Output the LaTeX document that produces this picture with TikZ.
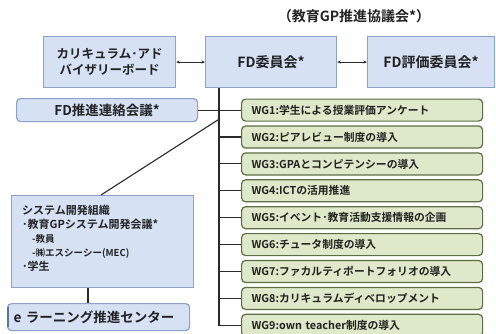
\documentclass[tikz,border=0pt]{standalone}
\usepackage{fontspec}
\setmainfont{Noto Sans CJK JP}[BoldFont={Noto Sans CJK JP Bold}]
\usetikzlibrary{arrows.meta,calc}
\definecolor{bfill}{HTML}{D6E2F4}
\definecolor{bdraw}{HTML}{8AA2CC}
\definecolor{gfill}{HTML}{DDE9C8}
\definecolor{gdraw}{HTML}{5C6E44}
\definecolor{lnc}{HTML}{2A2A2A}
\definecolor{txc}{HTML}{222222}
\begin{document}
\begin{tikzpicture}[x=1pt,y=-1pt,
  bbox/.style={draw=bdraw,fill=bfill,line width=1.2pt,rectangle,anchor=north west,inner sep=0pt,align=center,text=txc,font=\bfseries\fontsize{12.5}{15.5}\selectfont},
  rbox/.style={bbox,rounded corners=4pt},
  wgbox/.style={draw=gdraw,fill=gfill,line width=1.2pt,rectangle,rounded corners=4pt,anchor=north west,minimum width=241pt,minimum height=22pt,text width=221pt,inner xsep=10pt,inner ysep=0pt,align=left,text=txc,font=\bfseries\fontsize{10.8}{12}\selectfont},
  conn/.style={draw=lnc,line width=1.1pt},
  dbl/.style={draw=lnc,line width=0.9pt,{Stealth[length=3.5pt,width=3pt]}-{Stealth[length=3.5pt,width=3pt]}}
]
\useasboundingbox (0,0) rectangle (496,333);
% title
\node[text=txc,font=\bfseries\fontsize{14}{16}\selectfont] (title) at (354,16) {（教育GP推進協議会*）};
% top boxes
\node[bbox,minimum width=132pt,minimum height=51pt] (adv) at (43,36) {カリキュラム･アド\\バイザリーボード};
\node[bbox,minimum width=131pt,minimum height=51pt,font=\bfseries\fontsize{14}{16}\selectfont] (fd) at (205,36) {FD委員会*};
\node[bbox,minimum width=127pt,minimum height=51pt,font=\bfseries\fontsize{14}{16}\selectfont] (fde) at (367,36) {FD評価委員会*};
\draw[dbl] (adv.east) -- (fd.west);
\draw[dbl] (fd.east) -- (fde.west);
% FD promotion liaison
\node[rbox,minimum width=181pt,minimum height=23pt,font=\bfseries\fontsize{13.5}{15}\selectfont] (fdp) at (16,98) {FD推進連絡会議*};
% WG boxes
\node[wgbox] (wg1) at (241,98.5) {WG1:学生による授業評価アンケート};
\node[wgbox] (wg2) at (241,125.4) {WG2:ピアレビュー制度の導入};
\node[wgbox] (wg3) at (241,152.3) {WG3:GPAとコンピテンシーの導入};
\node[wgbox] (wg4) at (241,179.2) {WG4:ICTの活用推進};
\node[wgbox] (wg5) at (241,206.1) {WG5:イベント･教育活動支援情報の企画};
\node[wgbox] (wg6) at (241,233.0) {WG6:チュータ制度の導入};
\node[wgbox] (wg7) at (241,259.9) {WG7:ファカルティポートフォリオの導入};
\node[wgbox] (wg8) at (241,286.8) {WG8:カリキュラムディベロップメント};
\node[wgbox] (wg9) at (241,313.7) {WG9:own teacher制度の導入};
% trunk
\coordinate (t0) at ($(fd.south west)+(14,0)$);
\draw[conn] (t0) |- (wg9.west);
\foreach \i in {2,...,8} {\draw[conn] (wg\i.west) -- (wg\i.west -| t0);}
\draw[conn] (fdp.east) -- (wg1.west);
% system development organisation
\node[bbox,minimum width=182pt,minimum height=92pt] (sys) at (11,195) {};
\node[anchor=north west,inner sep=0pt,align=left,text=txc,font=\bfseries\fontsize{11}{14}\selectfont] (systxt) at (22,204.5)
  {システム開発組織\\･教育GPシステム開発会議*\\
   \hspace*{10pt}{\fontsize{9.5}{14}\selectfont -教員}\\
   \hspace*{10pt}{\fontsize{9.5}{14}\selectfont -㈱エスシーシー(MEC)}\\
   ･学生};
\coordinate (dj) at ($(t0)+(0,31)$);
\draw[conn] (dj) -- ($(sys.north west)+(90,0)$);
% e-learning centre
\node[rbox,minimum width=181pt,minimum height=27pt,text width=170pt,align=left,inner xsep=6pt,font=\bfseries\fontsize{13.5}{15}\selectfont] (el) at (7,303) {e ラーニング推進センター};
\draw[bdraw!70!black,line width=2.5pt] ($(el.north west)+(0.8,4)$) -- ($(el.south west)+(0.8,-4)$);
\draw[conn] ($(sys.south west)+(77,0)$) -- ($(el.north west)+(81,0)$);
\end{tikzpicture}
\end{document}
